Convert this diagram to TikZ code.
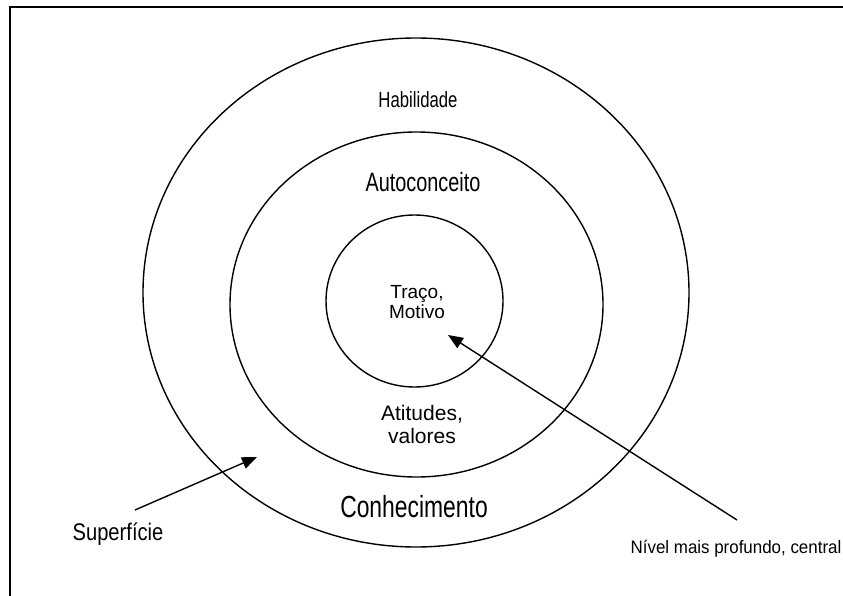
\documentclass[tikz,border=0pt]{standalone}
\usepackage{fontspec}
\setmainfont{Liberation Sans}
\usetikzlibrary{arrows.meta}
\begin{document}
\begin{tikzpicture}[x=1pt,y=-1pt,
  ring/.style={draw, line width=1.4pt},
  lbl/.style={inner sep=0pt, anchor=center, align=center},
  arr/.style={line width=1.4pt, -{Triangle[length=15pt,width=12pt]}}]
\useasboundingbox (0,0) rectangle (843,596);
\draw[line width=2pt] (10,596) -- (10,7) -- (843,7);
\draw[ring] (416,292.5) ellipse [x radius=273, y radius=254.5];
\draw[ring] (416.5,304.5) ellipse [x radius=186.5, y radius=172.5];
\draw[ring] (414.5,301) ellipse [x radius=88.5, y radius=86];
\node[lbl, font=\fontsize{22}{24}\selectfont] (hab) at (418,100) {\scalebox{0.76}[1]{Habilidade}};
\node[lbl, font=\fontsize{26.5}{28}\selectfont] (auto) at (423,182) {\scalebox{0.75}[1]{Autoconceito}};
\node[lbl, font=\fontsize{19}{20}\selectfont] (traco) at (417,302) {Traço,\\ Motivo};
\node[lbl, font=\fontsize{21}{23}\selectfont] (atit) at (422,424) {Atitudes,\\ valores};
\node[lbl, font=\fontsize{30.5}{32}\selectfont] (conh) at (414,507) {\scalebox{0.75}[1]{Conhecimento}};
\node[lbl, font=\fontsize{24}{26}\selectfont] (sup) at (118,534) {\scalebox{0.84}[1]{Superfície}};
\node[lbl, font=\fontsize{18}{20}\selectfont] (niv) at (736,549) {\scalebox{0.94}[1]{Nível mais profundo, central}};
\coordinate (s0) at (135,510);
\coordinate (s1) at (257,457);
\coordinate (c0) at (737,520);
\coordinate (c1) at (448,335);
\draw[arr] (s0) -- (s1);
\draw[arr] (c0) -- (c1);
\end{tikzpicture}
\end{document}
